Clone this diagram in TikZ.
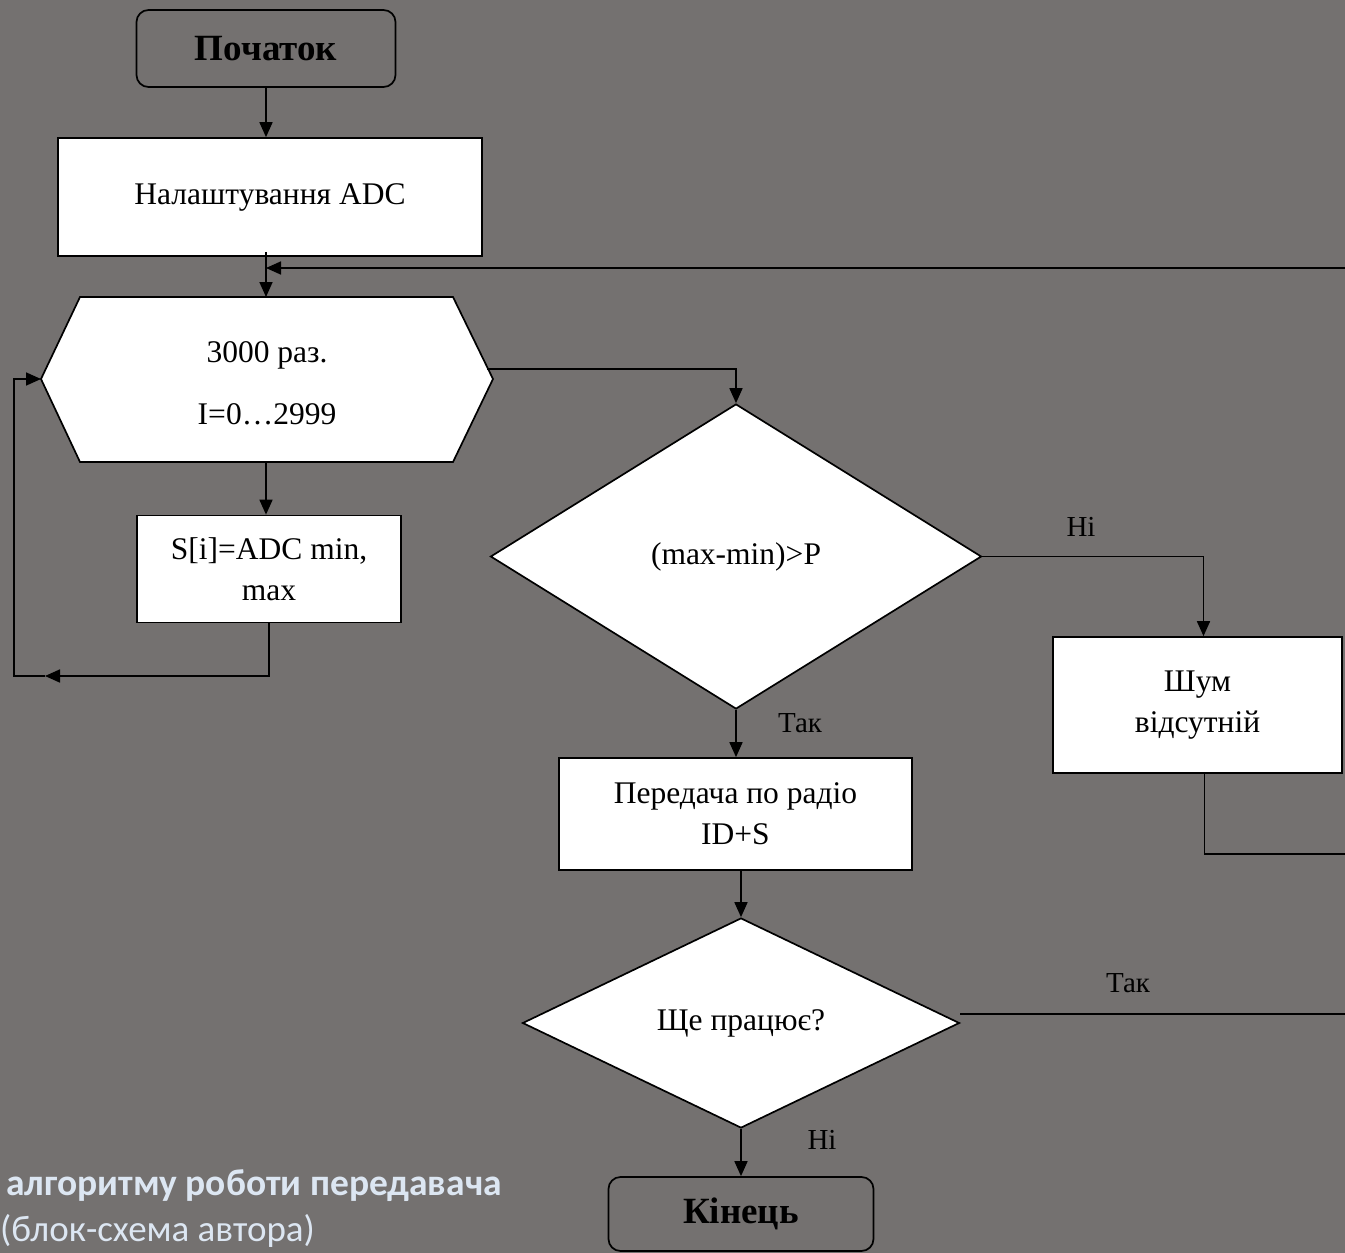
\documentclass[tikz,border=0pt]{standalone}
\usepackage{fontspec}
\setmainfont{Liberation Serif}
\newfontfamily\capfont{Carlito}
\usetikzlibrary{shapes.geometric,arrows.meta,calc}
\definecolor{bg}{RGB}{116,113,112}
\definecolor{capcol}{RGB}{220,230,242}
\begin{document}
\begin{tikzpicture}[x=1pt,y=-1pt,
  ln/.style={line width=1.7pt},
  arr/.style={line width=1.7pt,-{Triangle[length=15pt,width=13pt]}},
  txt/.style={font=\fontsize{31.5}{41}\selectfont,align=center},
  proc/.style={txt,draw,fill=white,line width=1.7pt,inner sep=0pt},
  term/.style={draw,fill=bg,rounded corners=12pt,line width=1.7pt,inner sep=0pt,font=\fontsize{37}{40}\selectfont\bfseries},
  decis/.style={txt,diamond,draw,fill=white,line width=1.7pt,inner sep=0pt},
  lbl/.style={font=\fontsize{29}{30}\selectfont,inner sep=0pt},
  captxt/.style={text=capcol,inner sep=0pt,anchor=base west}
]
\fill[bg] (0,0) rectangle (1345,1253);
\useasboundingbox (0,0) rectangle (1345,1253);

% nodes
\node[term,minimum width=259pt,minimum height=77pt] (start) at (266,48.5) {Початок};
\node[proc,minimum width=424pt,minimum height=118pt] (setup) at (270,197) {Налаштування ADC};

\coordinate (hexNW) at (80,297);
\coordinate (hexNE) at (453,297);
\coordinate (hexE) at (493,379);
\coordinate (hexSE) at (453,462);
\coordinate (hexSW) at (80,462);
\coordinate (hexW) at (41,379);
\coordinate (hexN) at (266,297);
\coordinate (hexS) at (266,462);
\coordinate (hexOut) at (487,369);
\filldraw[fill=white,ln,line join=miter] (hexNW) -- (hexNE) -- (hexE) -- (hexSE) -- (hexSW) -- (hexW) -- cycle;
\node[txt,font=\fontsize{31.5}{62}\selectfont] (hex) at (267,383) {3000 раз.\\I=0…2999};

\node[proc,minimum width=264pt,minimum height=107pt] (sbox) at (269,569) {S[i]=ADC min,\\max};
\node[decis,minimum width=491pt,minimum height=305pt] (d1) at (736,556.5) {(max-min)>P};
\node[proc,minimum width=289pt,minimum height=136pt] (noise) at (1197.5,705) {Шум\\відсутній};
\node[proc,minimum width=353pt,minimum height=112pt] (tx) at (735.5,814) {Передача по радіо\\ID+S};
\node[decis,minimum width=437pt,minimum height=210pt] (d2) at (741,1023) {Ще працює?};
\node[term,minimum width=265pt,minimum height=74pt] (end) at (741,1214) {Кінець};

% labels
\node[lbl] (lno1) at (1081,527) {Ні};
\node[lbl] (lyes1) at (800,723) {Так};
\node[lbl] (lyes2) at (1128,983) {Так};
\node[lbl] (lno2) at (822,1140) {Ні};

% connectors
\coordinate (rin) at (1345,268);
\coordinate (loopA) at (45,676);
\coordinate (loopB) at (14,676);
\coordinate (nout) at (1345,854);
\coordinate (yout) at (1345,1014);

\draw[arr] (start.south -| hexN) -- (setup.north -| hexN);
\draw[arr] ($(setup.south -| hexN)+(0,-5)$) -- (hexN);
\draw[arr] (rin) -- (rin -| hexN);
\draw[arr] (hexOut) -| (d1.north);
\draw[arr] (hexS) -- (hexS |- sbox.north);
\draw[arr] (sbox.south) |- (loopA);
\draw[arr] (loopA) -- (loopB) |- (hexW);
\draw[arr] (d1.east) -| ($(noise.north)+(6,0)$);
\draw[ln] ($(noise.south)+(7,0)$) |- (nout);
\draw[arr] (d1.south) -- (d1.south |- tx.north);
\draw[arr] (tx.south -| d2.north) -- (d2.north);
\draw[ln] (yout -| d2.east) -- (yout);
\draw[arr] (d2.south) -- (end.north);

% caption
\node[captxt,font=\capfont\bfseries\fontsize{37.5}{40}\selectfont] (cap1) at (6,1195) {алгоритму роботи передавача};
\node[captxt,font=\capfont\fontsize{37}{40}\selectfont] (cap2) at (0,1241) {(блок-схема автора)};
\end{tikzpicture}
\end{document}
